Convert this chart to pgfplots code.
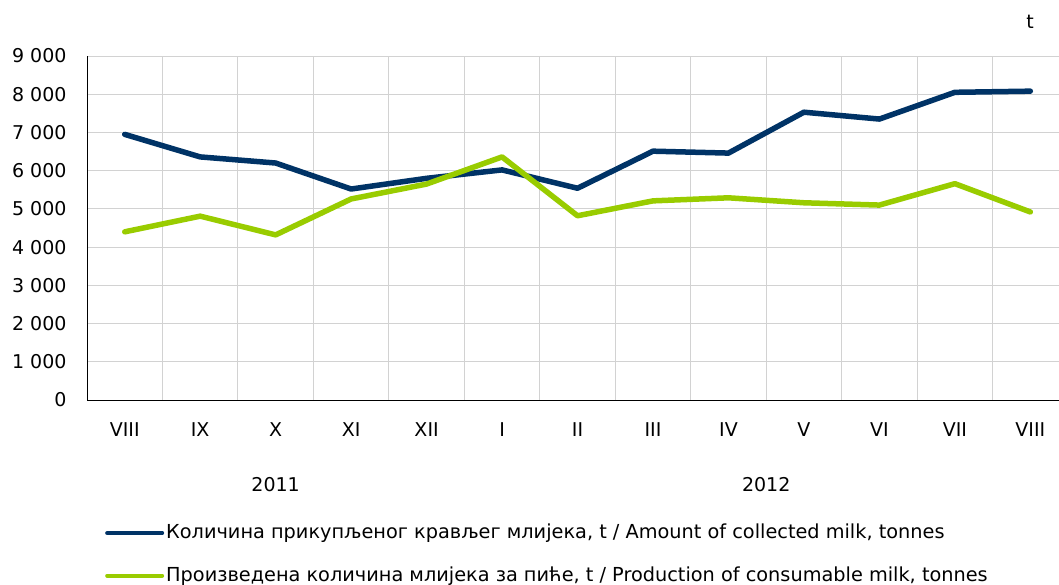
\documentclass[border=0pt]{standalone}
\usepackage{fontspec}
\setmainfont{DejaVu Sans}
\usepackage{pgfplots}
\pgfplotsset{compat=1.18}
\definecolor{navy}{RGB}{0,51,102}
\definecolor{lime}{RGB}{153,204,0}
\definecolor{gridc}{RGB}{210,210,210}
\begin{document}
\fontsize{19}{22}\selectfont
\begin{tikzpicture}[x=1pt,y=1pt]
\path[use as bounding box] (0,0) rectangle (1059,584);
\begin{axis}[
  at={(87pt,184pt)}, anchor=south west,
  scale only axis, width=972pt, height=344pt,
  xmin=-0.5, xmax=12.38, ymin=0, ymax=9000,
  axis x line*=bottom, axis y line*=left,
  axis line style={black, line width=1pt, -},
  xtick={0,...,12},
  xticklabels={VIII,IX,X,XI,XII,I,II,III,IV,V,VI,VII,VIII},
  minor xtick={0.5,1.5,...,11.5},
  xminorgrids, minor grid style={gridc, line width=1pt},
  ytick={0,1000,...,9000},
  yticklabels={0,1 000,2 000,3 000,4 000,5 000,6 000,7 000,8 000,9 000},
  ymajorgrids, major grid style={gridc, line width=1pt},
  major tick length=0pt, minor tick length=0pt,
  tick label style={font=\fontsize{19}{22}\selectfont},
  xticklabel style={yshift=-16pt},
  yticklabel style={xshift=-14pt},
  legend style={at={(0.0185,-0.355)}, anchor=north west, draw=none, fill=none,
    font=\fontsize{19.3}{22}\selectfont, row sep=21pt, inner sep=0pt,
    nodes={inner sep=2pt, anchor=west}},
  legend cell align=left,
  legend image code/.code={\draw[#1, line width=4pt, line cap=round] (0pt,0pt) -- (55pt,0pt);},
  clip=false,
]
\addplot[navy, line width=5.5pt, line join=round, line cap=round] coordinates {
(0,6950) (1,6360) (2,6200) (3,5520) (4,5800) (5,6020) (6,5540) (7,6510) (8,6460) (9,7530) (10,7350) (11,8050) (12,8080)};
\addlegendentry{Количина прикупљеног кравље\kern0pt г млијека, t / Amount of collected milk, tonnes}
\addplot[lime, line width=5.5pt, line join=round, line cap=round] coordinates {
(0,4400) (1,4810) (2,4320) (3,5260) (4,5650) (5,6360) (6,4820) (7,5210) (8,5290) (9,5160) (10,5100) (11,5660) (12,4920)};
\addlegendentry{Произведена количина млијека за пиће, t / Production of consumable milk, tonnes}
\node at (axis cs:2,0) [yshift=-85pt] {2011};
\node at (axis cs:8.5,0) [yshift=-85pt] {2012};
\end{axis}
\node at (1030,562) {t};
\end{tikzpicture}
\end{document}
